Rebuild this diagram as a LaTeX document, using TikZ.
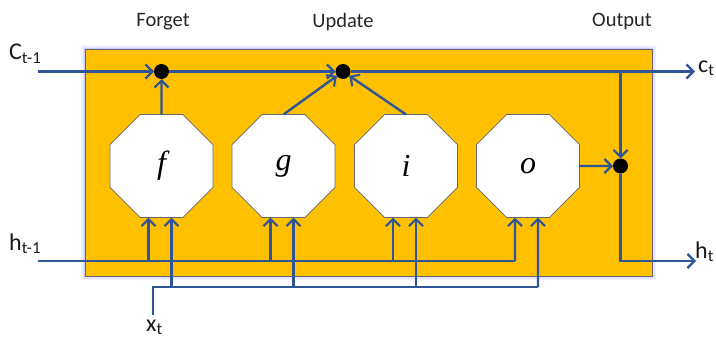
\documentclass[tikz,border=0pt]{standalone}
\usepackage{fontspec}
\setmainfont{Carlito}
\newfontfamily\gatefont{Liberation Serif}
\usetikzlibrary{arrows.meta,shapes.geometric}
\definecolor{lblue}{HTML}{2F5597}
\definecolor{gold}{HTML}{FFC000}
\tikzset{
  wire/.style={draw=lblue,line width=2.4pt},
  arr/.style={wire,-{Straight Barb[length=7pt,width=14pt,line width=2.2pt]}},
  gate/.style={regular polygon,regular polygon sides=8,minimum size=111.5pt,inner sep=0pt,outer sep=0pt,fill=white,draw=black!60,line width=0.8pt,font=\gatefont\itshape\fontsize{32}{34}\selectfont},
  dotn/.style={circle,fill=black,minimum size=15pt,inner sep=0pt,outer sep=0pt},
  head/.style={font=\fontsize{20.5}{24}\selectfont,text=black!85},
  io/.style={font=\fontsize{24}{27}\selectfont,anchor=base west,inner sep=0pt,text=black!90},
}
\begin{document}
\begin{tikzpicture}[x=1pt,y=-1pt]
\useasboundingbox (0,0) rectangle (716,340);
% glow
\foreach \w/\o in {8/0.08,5/0.12,2.5/0.18}
  \draw[line width=\w pt,draw=blue!60,opacity=\o] (85,49) rectangle (652,276);
\draw[fill=gold,draw=black!60,line width=0.8pt] (85,49) rectangle (652,276);
% nodes
\node[gate] (f) at (161.5,166) {f};
\node[gate] (g) at (283.5,166) {g};
\node[gate] (i) at (406,166) {i};
\node[gate] (o) at (528,166) {o};
\node[dotn] (d1) at (161.5,71.5) {};
\node[dotn] (d2) at (343,71.5) {};
\node[dotn] (d3) at (620.5,166) {};
\coordinate (cin) at (38,71.5);
\coordinate (cout) at (695,71.5);
\coordinate (br) at (620.5,71.5);
\coordinate (hin) at (38,261);
\coordinate (hcorner) at (515,261);
\coordinate (hdown) at (620.5,261);
\coordinate (hout) at (696,261);
\coordinate (xin) at (153,315);
\coordinate (xcorner) at (153,287);
\coordinate (xend) at (538,287);
% labels
\node[head] (lf) at (163,22) {Forget};
\node[head] (lu) at (343,22) {Update};
\node[head] (lo) at (622,22) {Output};
\node[io] (lc) at (9,59.5) {C\textsubscript{t-1}};
\node[io] (lh) at (9,250) {h\textsubscript{t-1}};
\node[io] (lx) at (146,331) {x\textsubscript{t}};
\node[io] (lct) at (698,72) {c\textsubscript{t}};
\node[io] (lht) at (695,258) {h\textsubscript{t}};
% top line
\draw[arr] (cin) -- (d1);
\draw[arr] (d1) -- (d2);
\draw[arr] (d2) -- (cout);
\draw[arr] (f.north) -- (d1);
\draw[arr] (g.north) -- (d2);
\draw[arr] (i.north) -- (d2);
\draw[arr] (br) -- (d3);
\draw[arr] (o.east) -- (d3);
\draw[arr] (d3) -- (hdown) -- (hout);
% h_{t-1}
\draw[wire] (hin) -- (hcorner);
\draw[arr] (hcorner) -- ([xshift=-13pt]o.south);
\foreach \n in {f,g,i}
  \draw[arr] ([xshift=-13pt]\n.south |- hin) -- ([xshift=-13pt]\n.south);
% x_t
\draw[wire] (xin) -- (xcorner) -- (xend);
\draw[arr] (xend) -- ([xshift=10pt]o.south);
\foreach \n in {f,g,i}
  \draw[arr] ([xshift=10pt]\n.south |- xcorner) -- ([xshift=10pt]\n.south);
\end{tikzpicture}
\end{document}
